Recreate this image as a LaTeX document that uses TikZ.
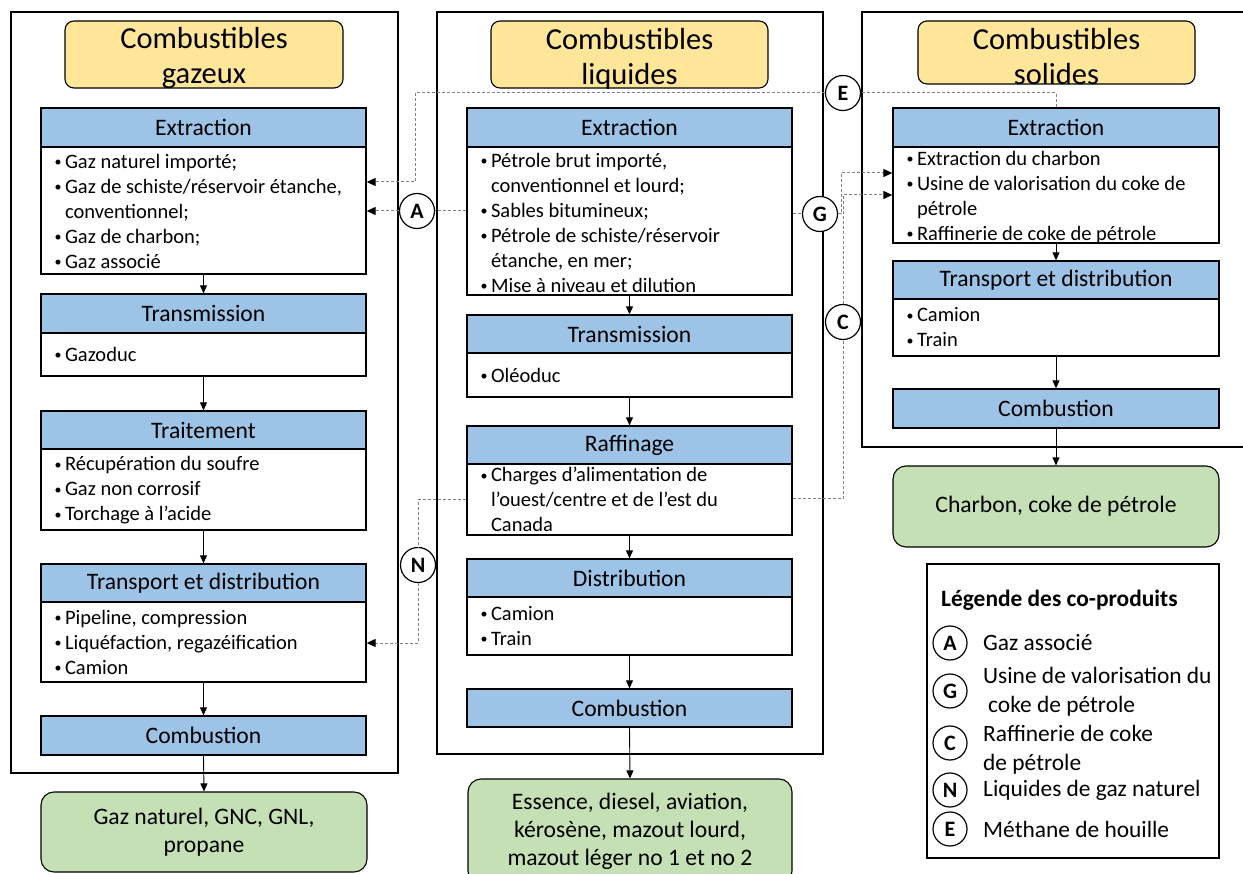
\documentclass[tikz,border=0pt]{standalone}
\usepackage{fontspec}
\setmainfont{Carlito}
\usetikzlibrary{arrows.meta}

\definecolor{hdrblue}{HTML}{9DC3E6}
\definecolor{ttlyellow}{HTML}{FFE699}
\definecolor{prodgreen}{HTML}{C5E0B4}
\definecolor{linkgray}{HTML}{7F7F7F}

\newcommand\itemdot{\makebox[10.5pt][l]{\raisebox{1.6pt}{\fontsize{14}{14}\selectfont •}}}
\newcommand\itemgap{\hspace*{10.5pt}}

\tikzset{
  frame/.style={draw=black, line width=1.2pt},
  ttl/.style={draw=black, line width=1.1pt, fill=ttlyellow, rounded corners=9pt,
    inner sep=0pt},
  ttltext/.style={inner sep=0pt, align=center, font=\fontsize{30.5}{35}\selectfont},
  hdr/.style={draw=black, line width=1.3pt, fill=hdrblue, inner sep=0pt,
    font=\fontsize{23.6}{28}\selectfont},
  bodybox/.style={draw=black, line width=1.3pt, fill=white, inner sep=0pt},
  bodytext/.style={anchor=west, align=left, inner sep=0pt,
    font=\fontsize{20.5}{25}\selectfont},
  prod/.style={draw=black, line width=1.1pt, fill=prodgreen, rounded corners=13pt,
    inner sep=0pt, align=center, font=\fontsize{23.6}{28}\selectfont},
  flow/.style={line width=0.9pt, -{Triangle[length=8pt,width=7pt]}},
  link/.style={draw=linkgray, line width=1pt, dash pattern=on 3pt off 2pt},
  linkarrow/.style={link, -{Triangle[length=9pt,width=8pt,color=black]}},
  coprod/.style={circle, draw=black, line width=1.2pt, fill=white, inner sep=0pt,
    minimum size=35pt, font=\fontsize{22}{24}\selectfont\bfseries},
  legtext/.style={anchor=west, align=left, inner sep=0pt,
    font=\fontsize{23.4}{29}\selectfont},
}

\begin{document}
\begin{tikzpicture}[x=1pt,y=-1pt]
\useasboundingbox (0,0) rectangle (1243,874);

% ---------- outer frames ----------
\draw[frame] (11,12) rectangle (398,773);
\draw[frame] (437,12) rectangle (823,754);
\draw[frame] (1250,12) -- (862,12) -- (862,447) -- (1250,447);

% ---------- gaseous fuels ----------
\node[ttl, minimum width=278pt, minimum height=67pt] (gttl) at (204,54.5) {};
\node[ttltext] (gttlt) at ([yshift=-4pt]gttl.center) {Combustibles\\gazeux};

\node[hdr, minimum width=325pt, minimum height=39pt] (gexth) at (203.5,127.5) {Extraction};
\node[bodybox, minimum width=325pt, minimum height=127pt] (gextb) at (203.5,210.5) {};
\node[bodytext] (gextt) at ([xshift=14pt,yshift=-1pt]gextb.west)
  {\itemdot Gaz naturel importé;\\
   \itemdot Gaz de schiste/réservoir étanche,\\
   \itemgap conventionnel;\\
   \itemdot Gaz de charbon;\\
   \itemdot Gaz associé};

\node[hdr, minimum width=325pt, minimum height=39pt] (gtrh) at (203.5,313.5) {Transmission};
\node[bodybox, minimum width=325pt, minimum height=43pt] (gtrb) at (203.5,354.5) {};
\node[bodytext] (gtrt) at ([xshift=14pt]gtrb.west) {\itemdot Gazoduc};

\node[hdr, minimum width=325pt, minimum height=38pt] (gtrth) at (203.5,430) {Traitement};
\node[bodybox, minimum width=325pt, minimum height=81pt] (gtrtb) at (203.5,489.5) {};
\node[bodytext] (gtrtt) at ([xshift=14pt,yshift=-1pt]gtrtb.west)
  {\itemdot Récupération du soufre\\
   \itemdot Gaz non corrosif\\
   \itemdot Torchage à l’acide};

\node[hdr, minimum width=325pt, minimum height=38pt] (gtdh) at (203.5,583) {Transport et distribution};
\node[bodybox, minimum width=325pt, minimum height=80pt] (gtdb) at (203.5,642) {};
\node[bodytext] (gtdt) at ([xshift=14pt]gtdb.west)
  {\itemdot Pipeline, compression\\
   \itemdot Liquéfaction, regazéification\\
   \itemdot Camion};

\node[hdr, minimum width=325pt, minimum height=39pt] (gcoh) at (203.5,735.5) {Combustion};

\node[prod, minimum width=326pt, minimum height=80pt] (gprod) at (204,832)
  {Gaz naturel, GNC, GNL,\\propane};

\draw[flow] (gextb.south) -- (gtrh.north);
\draw[flow] (gtrb.south) -- (gtrth.north);
\draw[flow] (gtrtb.south) -- (gtdh.north);
\draw[flow] (gtdb.south) -- (gcoh.north);
\draw[flow] (gcoh.south) -- (gprod.north);

% ---------- liquid fuels ----------
\node[ttl, minimum width=277pt, minimum height=67pt] (lttl) at (629.5,54.5) {};
\node[ttltext] (lttlt) at ([yshift=-4pt]lttl.center) {Combustibles\\liquides};

\node[hdr, minimum width=325pt, minimum height=39pt] (lexth) at (629.5,127.5) {Extraction};
\node[bodybox, minimum width=325pt, minimum height=148pt] (lextb) at (629.5,221) {};
\node[bodytext] (lextt) at ([xshift=14pt,yshift=-2pt]lextb.west)
  {\itemdot Pétrole brut importé,\\
   \itemgap conventionnel et lourd;\\
   \itemdot Sables bitumineux;\\
   \itemdot Pétrole de schiste/réservoir\\
   \itemgap étanche, en mer;\\
   \itemdot Mise à niveau et dilution};

\node[hdr, minimum width=325pt, minimum height=38pt] (ltrh) at (629.5,334) {Transmission};
\node[bodybox, minimum width=325pt, minimum height=44pt] (ltrb) at (629.5,375) {};
\node[bodytext] (ltrt) at ([xshift=14pt]ltrb.west) {\itemdot Oléoduc};

\node[hdr, minimum width=325pt, minimum height=38pt] (lrafh) at (629.5,445) {Raffinage};
\node[bodybox, minimum width=325pt, minimum height=71pt] (lrafb) at (629.5,499.5) {};
\node[bodytext] (lraft) at ([xshift=14pt]lrafb.west)
  {\itemdot Charges d’alimentation de\\
   \itemgap l’ouest/centre et de l’est du\\
   \itemgap Canada};

\node[hdr, minimum width=325pt, minimum height=38pt] (ldish) at (629.5,578) {Distribution};
\node[bodybox, minimum width=325pt, minimum height=58pt] (ldisb) at (629.5,626) {};
\node[bodytext] (ldist) at ([xshift=14pt]ldisb.west)
  {\itemdot Camion\\
   \itemdot Train};

\node[hdr, minimum width=325pt, minimum height=38pt] (lcoh) at (629.5,708) {Combustion};

\node[prod, minimum width=324pt, minimum height=105pt] (lprod) at (630,831.5)
  {Essence, diesel, aviation,\\kérosène, mazout lourd,\\mazout léger no 1 et no 2};

\draw[flow] (lextb.south) -- (ltrh.north);
\draw[flow] (ltrb.south) -- (lrafh.north);
\draw[flow] (lrafb.south) -- (ldish.north);
\draw[flow] (ldisb.south) -- (lcoh.north);
\draw[flow] (lcoh.south) -- (lprod.north);

% ---------- solid fuels ----------
\node[ttl, minimum width=277pt, minimum height=63pt] (sttl) at (1056.5,52.5) {};
\node[ttltext] (sttlt) at ([yshift=-4pt]sttl.center) {Combustibles\\solides};

\node[hdr, minimum width=326pt, minimum height=39pt] (sexth) at (1056,127.5) {Extraction};
\node[bodybox, minimum width=326pt, minimum height=96pt] (sextb) at (1056,195) {};
\node[bodytext] (sextt) at ([xshift=14pt,yshift=-2.5pt]sextb.west)
  {\itemdot Extraction du charbon\\
   \itemdot Usine de valorisation du coke de\\
   \itemgap pétrole\\
   \itemdot Raffinerie de coke de pétrole};

\node[hdr, minimum width=326pt, minimum height=38pt] (stdh) at (1056,280) {Transport et distribution};
\node[bodybox, minimum width=326pt, minimum height=57pt] (stdb) at (1056,327.5) {};
\node[bodytext] (stdt) at ([xshift=14pt]stdb.west)
  {\itemdot Camion\\
   \itemdot Train};

\node[hdr, minimum width=326pt, minimum height=39pt] (scoh) at (1056,408.5) {Combustion};

\node[prod, minimum width=326pt, minimum height=81pt] (sprod) at (1056,506.5)
  {Charbon, coke de pétrole};

\draw[flow] (sextb.south) -- (stdh.north);
\draw[flow] (stdb.south) -- (scoh.north);
\draw[flow] (scoh.south) -- (sprod.north);

% ---------- co-product links ----------
\node[coprod] (E) at (843,93) {E};
\node[coprod] (A) at (417,211) {A};
\node[coprod] (G) at (820,214) {G};
\node[coprod] (C) at (843,322) {C};
\node[coprod] (N) at (418,565) {N};

\coordinate (ebend) at (415,182);
\coordinate (gup) at (841,173);
\coordinate (cup) at (843,195);
\coordinate (cdown) at (843,499);
\coordinate (ntop) at (418,500);
\coordinate (nbot) at (418,643);

% coal-bed methane
\draw[link] (sexth.north) |- (E.east);
\draw[linkarrow] (E.west) -| (ebend) -- (gextb.east |- ebend);
% associated gas
\draw[link] (lextb.west |- A) -- (A.east);
\draw[linkarrow] (A.west) -- (gextb.east |- A);
% upgrader
\draw[link] (lextb.east |- G) -- (G.west);
\draw[linkarrow] (G.east) -| (gup) -- (sextb.west |- gup);
% petroleum coke refinery
\draw[link] (lrafb.east |- cdown) -| (C.south);
\draw[linkarrow] (C.north) |- (sextb.west |- cup);
% natural gas liquids
\draw[link] (lrafb.west |- ntop) -| (N.north);
\draw[linkarrow] (N.south) |- (gtdb.east |- nbot);

% ---------- legend ----------
\draw[frame] (927,564) rectangle (1219,858);
\node[anchor=west, inner sep=0pt, font=\fontsize{23.4}{28}\selectfont\bfseries] (legttl) at (941,600)
  {Légende des co-produits};

\node[coprod, minimum size=34pt] (lgA) at (950,643) {A};
\node[legtext] (lgAt) at (983,643) {Gaz associé};
\node[coprod, minimum size=34pt] (lgG) at (950,691) {G};
\node[legtext] (lgGt) at (983,692) {Usine de valorisation du\\\hspace*{5pt}coke de pétrole};
\node[coprod, minimum size=34pt] (lgC) at (950,743) {C};
\node[legtext] (lgCt) at (983,749.5) {Raffinerie de coke\\de pétrole};
\node[coprod, minimum size=34pt] (lgN) at (950,790) {N};
\node[legtext] (lgNt) at (983,790) {Liquides de gaz naturel};
\node[coprod, minimum size=34pt] (lgE) at (950,829) {E};
\node[legtext] (lgEt) at (983,829) {Méthane de houille};
\end{tikzpicture}
\end{document}
